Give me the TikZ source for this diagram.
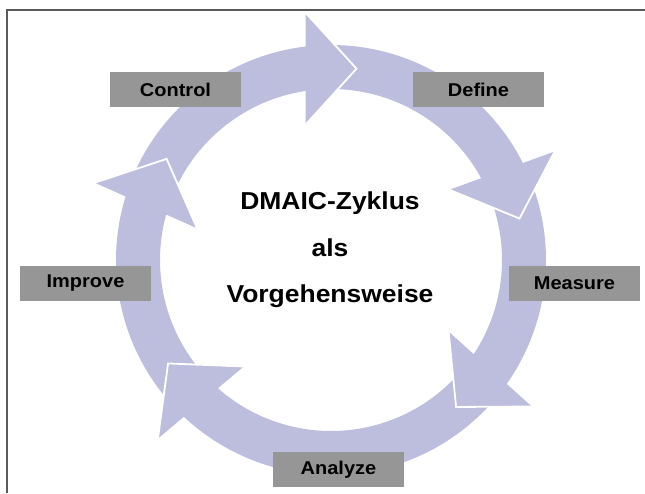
\documentclass[tikz,border=0pt]{standalone}
\usepackage{fontspec}
\setmainfont{Liberation Sans}
\usepackage{graphicx}
\definecolor{ring}{RGB}{189,189,221}
\definecolor{boxgray}{RGB}{150,150,150}
\definecolor{framegray}{RGB}{90,90,90}

\begin{document}
\begin{tikzpicture}[x=1pt,y=1pt,
  phasebox/.style={fill=boxgray, minimum width=131pt, minimum height=35pt,
    inner sep=0pt, font=\bfseries\fontsize{18.5}{20}\selectfont},
  titleline/.style={font=\bfseries\fontsize{24.5}{28}\selectfont, anchor=base},
  headedge/.style={white, line width=1.8pt, line join=miter},
]
\useasboundingbox (0,0) rectangle (645,-493);

% frame lines
\draw[framegray, line width=1.3pt] (7,-493) -- (7,-10) -- (645,-10);

\begin{scope}[shift={(331,-260)}]
  % curved bodies of the five cycle arrows (start / end angle)
  \foreach \s/\e in {156/94.6, 90/24.6, 20/-37.4, -42/-135.4, -140/-199.4}{
    \fill[ring] (\s:215) arc[start angle=\s, end angle=\e, radius=215]
      -- (\e:171) arc[start angle=\e, end angle=\s, radius=171] -- cycle;
  }
  % arrow heads, each turned clockwise to its place on the ring
  \foreach \c in {0,70,132,230,294}{
    \begin{scope}[rotate=-\c]
      \fill[ring] (-25.5,247.3) -- (25.5,191.3) -- (-25.5,135.3) -- cycle;
      \draw[headedge] (-25.5,247.3) -- (25.5,191.3) -- (-25.5,135.3);
    \end{scope}
  }
\end{scope}

% phase labels
\node[phasebox] (define)  at (478.5,-89.5) {\scalebox{1.08}[1]{Define}};
\node[phasebox] (measure) at (574.5,-283.5) {\scalebox{1.08}[1]{Measure}};
\node[phasebox] (analyze) at (338.5,-469.5) {\scalebox{1.08}[1]{Analyze}};
\node[phasebox] (improve) at (85.5,-283.5) {\scalebox{1.08}[1]{Improve}};
\node[phasebox] (control) at (175.5,-89.5) {\scalebox{1.08}[1]{Control}};

% title in the middle of the cycle
\node[titleline] (t1) at (330,-209) {\scalebox{1.08}[1]{DMAIC-Zyklus}};
\node[titleline] (t2) at (330,-256) {\scalebox{1.08}[1]{als}};
\node[titleline] (t3) at (330,-302) {\scalebox{1.08}[1]{Vorgehensweise}};
\end{tikzpicture}
\end{document}
